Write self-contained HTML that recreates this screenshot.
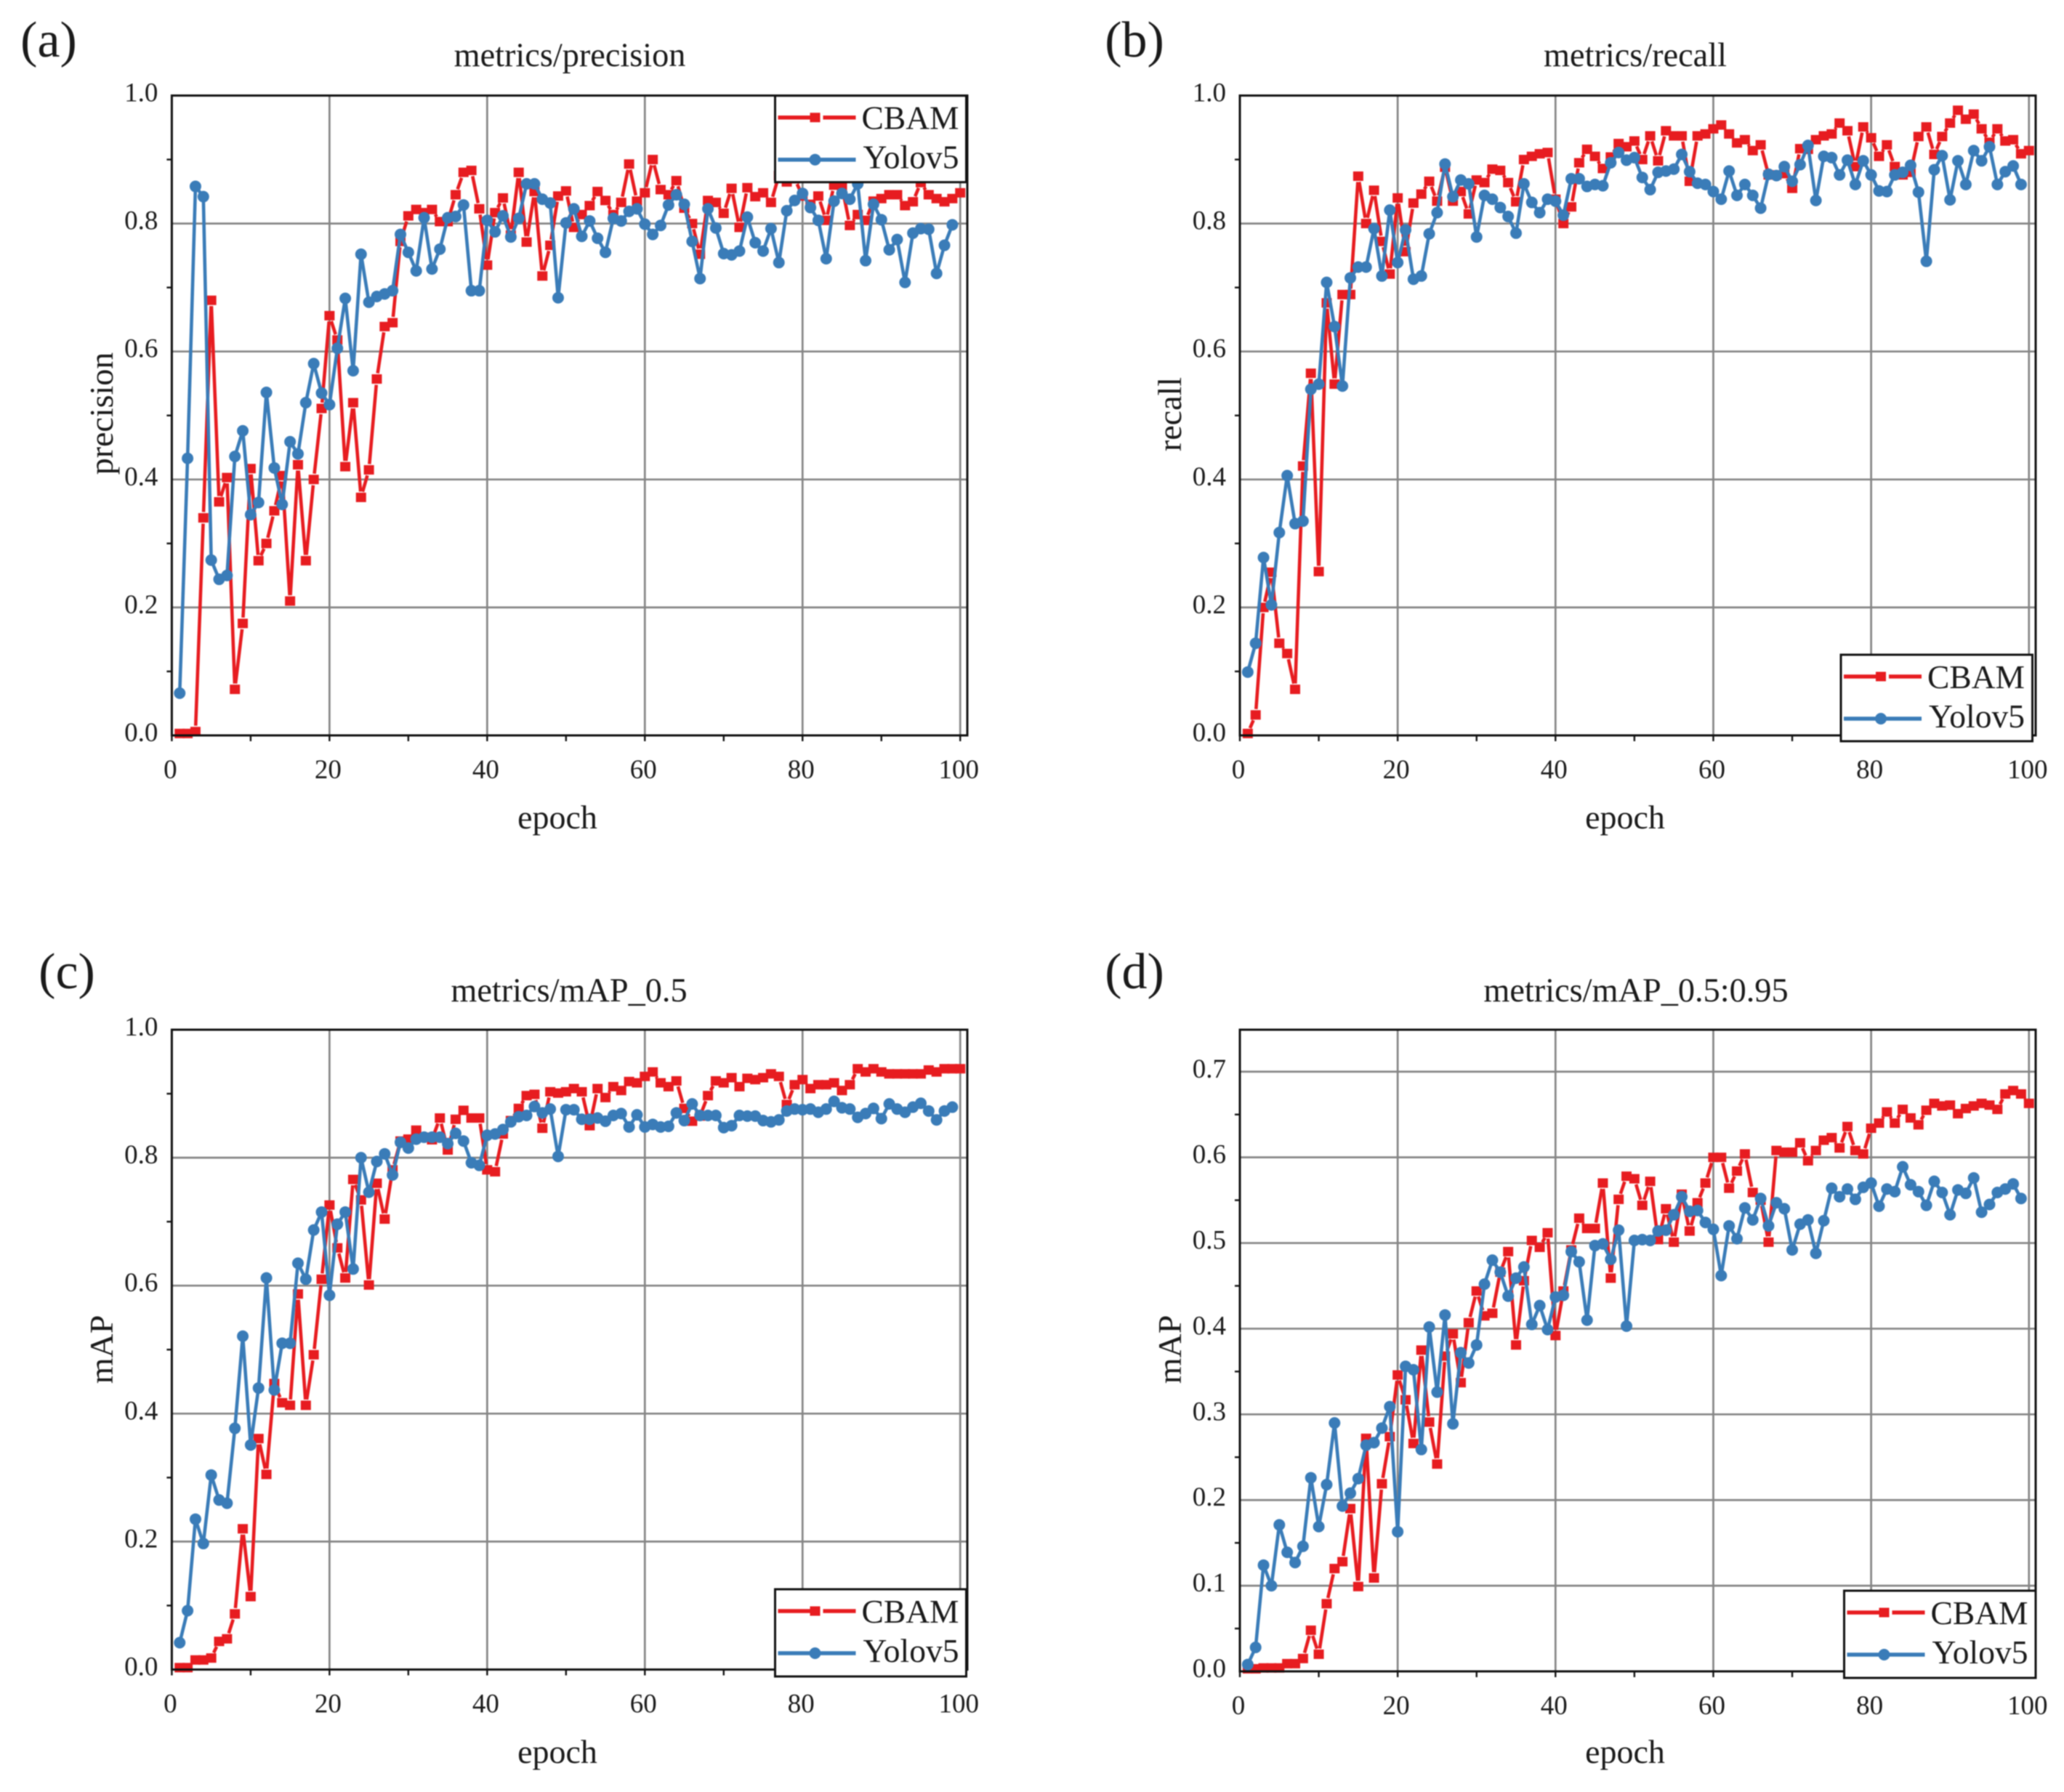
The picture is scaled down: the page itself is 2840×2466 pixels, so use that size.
<!DOCTYPE html>
<html lang="en">
<head>
<meta charset="utf-8">
<title>Training metrics comparison</title>
<style>
html,body{margin:0;padding:0;background:#fff;}
svg{display:block;filter:blur(0.7px);}
text{font-family:"Liberation Serif",serif;fill:#1a1a1a;}
</style>
</head>
<body>
<svg id="figure" xmlns="http://www.w3.org/2000/svg" width="2840" height="2466" viewBox="0 0 2840 2466">
<rect x="0" y="0" width="2840" height="2466" fill="#ffffff"/>
<text x="67" y="78" font-size="70" text-anchor="middle">(a)</text>
<text x="1561" y="78" font-size="70" text-anchor="middle">(b)</text>
<text x="92" y="1360" font-size="70" text-anchor="middle">(c)</text>
<text x="1561" y="1360" font-size="70" text-anchor="middle">(d)</text>
<text x="784" y="91" font-size="46.3" text-anchor="middle">metrics/precision</text>
<text x="2250" y="91" font-size="46.3" text-anchor="middle">metrics/recall</text>
<text x="783" y="1378" font-size="46.3" text-anchor="middle">metrics/mAP_0.5</text>
<text x="2251" y="1378" font-size="46.3" text-anchor="middle">metrics/mAP_0.5:0.95</text>
<text x="767" y="1140" font-size="46" text-anchor="middle">epoch</text>
<text x="2236" y="1140" font-size="46" text-anchor="middle">epoch</text>
<text x="767" y="2426" font-size="46" text-anchor="middle">epoch</text>
<text x="2236" y="2426" font-size="46" text-anchor="middle">epoch</text>
<text transform="translate(155,569) rotate(-90)" font-size="46" text-anchor="middle">precision</text>
<text transform="translate(1625,570) rotate(-90)" font-size="46" text-anchor="middle">recall</text>
<text transform="translate(155,1857) rotate(-90)" font-size="46" text-anchor="middle">mAP</text>
<text transform="translate(1625,1857) rotate(-90)" font-size="46" text-anchor="middle">mAP</text>
</svg>
<script>
const xTicks = [0, 20, 40, 60, 80, 100];
const xMinorTicks = [10, 30, 50, 70, 90];
const yTicksUnit = [0, 0.2, 0.4, 0.6, 0.8, 1.0];
const yMinorUnit = [0.1, 0.3, 0.5, 0.7, 0.9];
const yTicksMap95 = [0, 0.1, 0.2, 0.3, 0.4, 0.5, 0.6, 0.7];
const yMinorMap95 = [0.05, 0.15, 0.25, 0.35, 0.45, 0.55, 0.65];

const cbamPrecision = [.003,.003,.006,.34,.68,.365,.403,.072,.175,.417,.273,.30,.351,.406,.21,.423,.273,.40,.511,.656,.618,.42,.52,.372,.415,.557,.639,.645,.772,.812,.822,.817,.822,.803,.803,.845,.88,.883,.823,.735,.817,.84,.782,.88,.771,.85,.718,.766,.843,.851,.794,.814,.828,.85,.836,.814,.833,.893,.835,.848,.90,.853,.845,.867,.824,.80,.752,.836,.833,.816,.855,.794,.856,.842,.848,.833,.875,.865,.87,.843,.83,.843,.805,.86,.858,.797,.814,.805,.835,.839,.845,.845,.828,.834,.864,.845,.839,.834,.839,.848];
const yolov5Precision = [.066,.433,.858,.842,.274,.244,.25,.436,.476,.345,.364,.536,.418,.361,.459,.44,.52,.581,.535,.517,.605,.683,.57,.752,.677,.686,.69,.695,.783,.755,.726,.809,.729,.76,.809,.811,.829,.695,.695,.805,.787,.812,.779,.808,.862,.862,.838,.832,.684,.801,.823,.78,.804,.777,.755,.808,.804,.819,.823,.799,.783,.797,.829,.845,.83,.772,.714,.823,.793,.753,.751,.757,.81,.77,.757,.792,.739,.82,.836,.847,.825,.805,.745,.835,.847,.838,.862,.742,.83,.806,.759,.775,.708,.785,.792,.791,.722,.766,.798];

const cbamRecall = [.003,.032,.20,.255,.144,.128,.072,.421,.566,.256,.676,.549,.689,.689,.874,.80,.852,.772,.721,.84,.756,.832,.846,.866,.835,.888,.835,.85,.815,.868,.864,.885,.883,.864,.834,.90,.905,.909,.911,.838,.80,.826,.895,.916,.905,.886,.904,.925,.92,.929,.90,.937,.898,.945,.937,.937,.866,.937,.94,.948,.954,.94,.926,.931,.914,.923,.876,.876,.878,.855,.917,.916,.931,.937,.94,.957,.945,.889,.951,.934,.905,.923,.889,.876,.88,.936,.951,.908,.936,.957,.977,.963,.971,.948,.927,.948,.929,.931,.909,.914];
const yolov5Recall = [.099,.144,.278,.204,.317,.406,.331,.335,.541,.549,.708,.639,.546,.715,.732,.732,.792,.718,.821,.739,.79,.713,.718,.784,.817,.893,.842,.868,.862,.779,.844,.838,.825,.811,.785,.862,.833,.817,.838,.835,.813,.87,.87,.858,.861,.859,.895,.911,.899,.903,.872,.853,.88,.882,.885,.908,.881,.863,.861,.85,.838,.882,.844,.861,.844,.824,.877,.875,.889,.866,.892,.922,.836,.905,.903,.876,.899,.861,.898,.876,.851,.85,.876,.88,.891,.849,.741,.884,.906,.837,.898,.861,.914,.898,.92,.861,.881,.89,.861];

const cbamMap50 = [.003,.003,.015,.015,.018,.044,.048,.087,.22,.114,.361,.305,.447,.417,.413,.587,.413,.492,.61,.726,.659,.612,.766,.734,.601,.76,.704,.781,.826,.829,.843,.832,.828,.862,.812,.86,.874,.862,.862,.781,.778,.837,.858,.877,.897,.899,.846,.903,.901,.903,.908,.903,.85,.908,.894,.911,.905,.919,.917,.927,.934,.917,.911,.92,.877,.857,.865,.897,.92,.917,.925,.911,.924,.922,.925,.931,.927,.883,.914,.922,.908,.914,.914,.917,.905,.914,.939,.934,.939,.934,.931,.931,.931,.931,.931,.937,.934,.939,.939,.939];
const yolov5Map50 = [.042,.092,.235,.197,.304,.265,.26,.377,.521,.351,.44,.612,.437,.51,.51,.635,.61,.687,.715,.585,.696,.715,.626,.80,.746,.794,.806,.773,.824,.815,.829,.832,.832,.832,.822,.838,.826,.792,.788,.835,.837,.844,.856,.864,.866,.88,.87,.876,.802,.875,.875,.86,.86,.862,.857,.866,.869,.848,.867,.848,.852,.848,.849,.87,.858,.884,.866,.866,.866,.847,.85,.866,.865,.865,.858,.856,.859,.873,.876,.875,.876,.871,.876,.888,.878,.876,.863,.869,.877,.861,.884,.876,.871,.879,.885,.873,.859,.873,.879];

const cbamMap95 = [.003,.003,.004,.004,.004,.009,.009,.015,.048,.02,.079,.12,.128,.19,.099,.272,.109,.219,.274,.346,.317,.266,.375,.291,.242,.368,.394,.337,.407,.444,.415,.418,.466,.49,.381,.456,.503,.495,.512,.392,.444,.492,.529,.517,.517,.57,.459,.551,.578,.575,.544,.572,.504,.54,.501,.557,.514,.547,.57,.60,.60,.564,.584,.604,.559,.55,.501,.608,.606,.606,.617,.596,.608,.62,.623,.611,.636,.608,.604,.634,.64,.653,.64,.656,.646,.638,.655,.663,.66,.661,.651,.657,.66,.663,.661,.656,.674,.678,.674,.663];
const yolov5Map95 = [.008,.028,.124,.10,.171,.139,.127,.146,.226,.169,.218,.29,.193,.208,.225,.264,.267,.284,.309,.163,.356,.352,.259,.402,.326,.416,.289,.372,.36,.381,.452,.48,.466,.438,.459,.472,.405,.427,.399,.437,.439,.49,.478,.41,.497,.499,.481,.515,.403,.503,.504,.503,.514,.515,.533,.554,.537,.538,.524,.516,.462,.52,.505,.541,.527,.552,.52,.547,.54,.492,.522,.527,.488,.526,.564,.554,.563,.551,.565,.57,.543,.563,.56,.589,.568,.56,.544,.572,.559,.533,.562,.558,.576,.536,.545,.559,.563,.569,.552];

const seriesColors = {cbam: '#e71c20', yolov5: '#3a7cb8'};
const legendLabels = ['CBAM', 'Yolov5'];

const svg = document.getElementById('figure');
const NS = 'http://www.w3.org/2000/svg';

function svgEl(tag, attrs, parent) {
  const el = document.createElementNS(NS, tag);
  for (const k in attrs) el.setAttribute(k, attrs[k]);
  (parent || svg).appendChild(el);
  return el;
}

function makeXScale(p) {
  return function (v) { return p.left + (v - p.xMin) / (p.xMax - p.xMin) * (p.right - p.left); };
}
function makeYScale(p) {
  return function (v) { return p.bottom - (v - p.yMin) / (p.yMax - p.yMin) * (p.bottom - p.top); };
}

function drawGrid(p, x, y, yTicks) {
  const g = svgEl('g', {stroke: '#858585', 'stroke-width': 2.7});
  
  
  xTicks.slice(1).forEach(function (t) {
    const el = svgEl('line', {x1: x(t), x2: x(t), y1: p.top, y2: p.bottom}, g);
    
    
  });
  yTicks.slice(1).forEach(function (t) {
    const el = svgEl('line', {x1: p.left, x2: p.right, y1: y(t), y2: y(t)}, g);
    
    
  });
}

function drawSeries(name, color, values, x, y, gap, p) {
  const g = svgEl('g', {});
  
  
  const pts = values.map(function (v, i) { return [x(i + 1), y(v)]; });
  for (let i = 0; i < pts.length - 1; i++) {
    const dx = pts[i + 1][0] - pts[i][0];
    const dy = pts[i + 1][1] - pts[i][1];
    const len = Math.hypot(dx, dy);
    if (len <= gap * 2) continue;
    const ux = dx / len;
    const uy = dy / len;
    const seg = svgEl('line', {
      x1: pts[i][0] + ux * gap, y1: pts[i][1] + uy * gap,
      x2: pts[i + 1][0] - ux * gap, y2: pts[i + 1][1] - uy * gap,
      stroke: color, 'stroke-width': 4.6
    }, g);
    
    
  }
  pts.forEach(function (pt) {
    let m;
    if (name === 'cbam') {
      m = svgEl('rect', {x: pt[0] - 7, y: pt[1] - 6.5, width: 14, height: 13, fill: color}, g);
    } else {
      m = svgEl('circle', {cx: pt[0], cy: pt[1], r: 8, fill: color}, g);
    }
    
    
  });
}

function drawAxes(p, x, y, yTicks, yMinor) {
  const g = svgEl('g', {stroke: '#111', 'stroke-width': 3, fill: 'none'});
  
  
  const frame = svgEl('rect', {x: p.left, y: p.top, width: p.right - p.left, height: p.bottom - p.top}, g);
  
  
  xTicks.concat(xMinorTicks).forEach(function (t) {
    const el = svgEl('line', {x1: x(t), x2: x(t), y1: p.bottom, y2: p.bottom + 8, 'stroke-width': 2.4}, g);
    
    
  });
  yMinor.forEach(function (t) {
    const el = svgEl('line', {x1: p.left - 7, x2: p.left, y1: y(t), y2: y(t), 'stroke-width': 2.4}, g);
    
    
  });
  xTicks.forEach(function (t) {
    const el = svgEl('text', {x: x(t) - 2, y: p.bottom + 59, 'font-size': 37, 'text-anchor': 'middle'});
    el.textContent = String(t);
    
    
  });
  yTicks.forEach(function (t) {
    const el = svgEl('text', {x: p.left - 19, y: y(t) + 8, 'font-size': 37, 'text-anchor': 'end'});
    el.textContent = t.toFixed(1);
    
    
  });
}

function drawLegend(p) {
  const l = p.legend;
  const g = svgEl('g', {});
  
  
  const box = svgEl('rect', {x: l.x, y: l.y, width: l.w, height: l.h, fill: '#fff', stroke: '#111', 'stroke-width': 3}, g);
  
  
  const colors = [seriesColors.cbam, seriesColors.yolov5];
  legendLabels.forEach(function (label, i) {
    const ly = l.y + (i === 0 ? 30 : 88);
    const col = colors[i];
    const sx = l.x + 4;
    const mx = l.x + 55;
    const ex = l.x + 111;
    const line = svgEl('line', {x1: sx, x2: i === 0 ? mx + 6 : ex, y1: ly, y2: ly, stroke: col, 'stroke-width': 5.5}, g);
    
    
    if (i === 0) {
      const rest = svgEl('line', {x1: mx + 11, x2: ex, y1: ly, y2: ly, stroke: col, 'stroke-width': 5.5}, g);
      
      
      const s = svgEl('rect', {x: mx - 7, y: ly - 6.5, width: 14, height: 13, fill: col}, g);
      
      
    } else {
      const c = svgEl('circle', {cx: mx, cy: ly, r: 8, fill: col}, g);
      
      
    }
    const t = svgEl('text', {x: l.x + (i === 0 ? 119 : 121), y: ly + (i === 0 ? 16 : 12), 'font-size': 45.5}, g);
    t.textContent = label;
    
    
  });
}

function drawPanel(p) {
  const x = makeXScale(p);
  const y = makeYScale(p);
  drawGrid(p, x, y, p.yTicks);
  drawSeries('cbam', seriesColors.cbam, p.cbam, x, y, 8, p);
  drawSeries('yolov5', seriesColors.yolov5, p.yolov5, x, y, 5, p);
  drawAxes(p, x, y, p.yTicks, p.yMinor);
  drawLegend(p);
}

drawPanel({id: 'a', left: 236.4, right: 1331, top: 131.5, bottom: 1012, xMin: 0, xMax: 100.9, yMin: 0, yMax: 1,
  yTicks: yTicksUnit, yMinor: yMinorUnit, cbam: cbamPrecision, yolov5: yolov5Precision,
  legend: {x: 1066.5, y: 131.7, w: 263, h: 119}});
drawPanel({id: 'b', left: 1706, right: 2801, top: 131.5, bottom: 1012, xMin: 0, xMax: 100.85, yMin: 0, yMax: 1,
  yTicks: yTicksUnit, yMinor: yMinorUnit, cbam: cbamRecall, yolov5: yolov5Recall,
  legend: {x: 2533, y: 901, w: 263.5, h: 119}});
drawPanel({id: 'c', left: 236.4, right: 1331, top: 1417, bottom: 2297.5, xMin: 0, xMax: 100.9, yMin: 0, yMax: 1,
  yTicks: yTicksUnit, yMinor: yMinorUnit, cbam: cbamMap50, yolov5: yolov5Map50,
  legend: {x: 1066.5, y: 2187, w: 263, h: 120}});
drawPanel({id: 'd', left: 1706, right: 2801, top: 1417, bottom: 2300, xMin: 0, xMax: 100.85, yMin: 0, yMax: 0.749,
  yTicks: yTicksMap95, yMinor: yMinorMap95, cbam: cbamMap95, yolov5: yolov5Map95,
  legend: {x: 2537.5, y: 2189, w: 263.5, h: 120}});
</script>
</body>
</html>
